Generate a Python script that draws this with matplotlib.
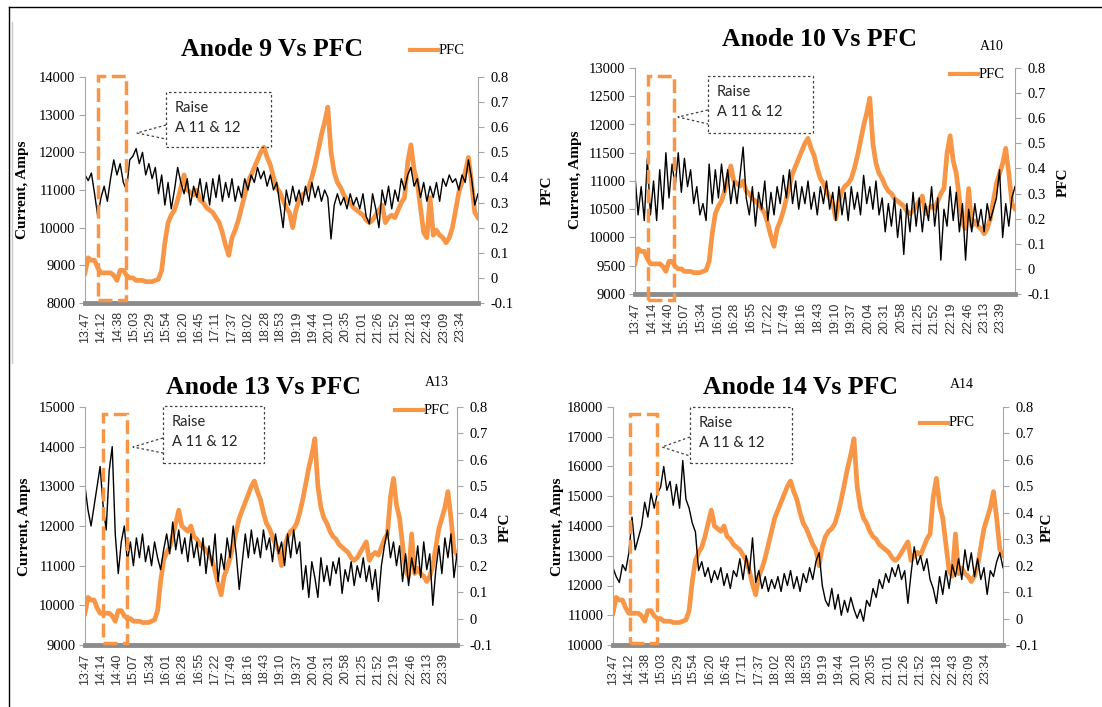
import numpy as np
import matplotlib.pyplot as plt
from matplotlib.patches import Rectangle
from matplotlib.lines import Line2D

W, H = 1102, 707
ORANGE = '#f79646'
GRAY = '#a6a6a6'

# one reading every 5 minutes starting 13:47
step = 5

pfc = [0.02, 0.08, 0.07, 0.07, 0.04, 0.02, 0.02, 0.02, 0.02, 0.01,
       -0.01, 0.03, 0.03, 0.01, 0.00, 0.00, -0.01, -0.01, -0.01, -0.015,
       -0.015, -0.015, -0.01, -0.005, 0.03, 0.14, 0.22, 0.25, 0.27, 0.31,
       0.36, 0.41, 0.35, 0.34, 0.33, 0.35, 0.31, 0.30, 0.28, 0.27,
       0.26, 0.24, 0.22, 0.18, 0.13, 0.09, 0.16, 0.19, 0.23, 0.28,
       0.33, 0.38, 0.41, 0.44, 0.47, 0.50, 0.52, 0.48, 0.45, 0.40,
       0.36, 0.34, 0.31, 0.28, 0.26, 0.20, 0.27, 0.31, 0.33, 0.34,
       0.36, 0.40, 0.45, 0.51, 0.57, 0.62, 0.68, 0.50, 0.42, 0.38,
       0.36, 0.33, 0.31, 0.30, 0.28, 0.27, 0.26, 0.25, 0.23, 0.22,
       0.23, 0.25, 0.27, 0.29, 0.22, 0.24, 0.25, 0.24, 0.27, 0.30,
       0.32, 0.46, 0.53, 0.43, 0.38, 0.28, 0.18, 0.16, 0.32, 0.17,
       0.19, 0.17, 0.16, 0.14, 0.16, 0.20, 0.27, 0.34, 0.38, 0.42,
       0.48, 0.38, 0.26, 0.24]

anode9 = [11400, 11250, 11450, 10900, 10300, 10800, 11100, 10700, 11300, 11800,
          11400, 11700, 11200, 11000, 11800, 11900, 12100, 11700, 12000, 11400,
          11700, 11300, 11600, 10900, 11400, 10600, 11200, 10500, 11000, 11600,
          11200, 10900, 11300, 10600, 11100, 10800, 11300, 10700, 11200, 10600,
          11300, 10800, 11400, 10700, 11200, 10800, 11300, 10700, 11100, 10800,
          11300, 11000, 11400, 11200, 11600, 11300, 11500, 11100, 11400, 11000,
          11200, 10600, 10000, 11000, 10600, 11100, 10700, 11000, 10600, 11100,
          10700, 11200, 10800, 11100, 10700, 11000, 10800, 9700, 10600, 10900,
          10600, 10800, 10500, 10900, 10600, 10800, 10500, 10900, 10300, 10100,
          10900, 10500, 10000, 11000, 10600, 11100, 10500, 11000, 10700, 11300,
          11000, 11400, 11600, 11100, 11300, 10800, 11200, 10700, 11100, 10800,
          11200, 10700, 11300, 11100, 11400, 11200, 11300, 11000, 11400, 11200,
          11800, 11300, 10600, 10900]

anode10 = [11100, 10400, 10900, 10300, 11400, 10400, 11000, 10300, 11200, 10500,
           11500, 10700, 11300, 10900, 11500, 10800, 11400, 10900, 11200, 10600,
           10900, 10400, 10600, 10300, 11300, 10600, 11200, 10700, 11300, 10800,
           11200, 10600, 11000, 10600, 11100, 11600, 10700, 10400, 10900, 10200,
           10800, 10500, 11000, 10300, 10800, 10400, 10900, 10600, 11100, 10700,
           11200, 10600, 11000, 10500, 10900, 10600, 11000, 10500, 10800, 10400,
           10900, 10600, 11000, 10500, 10800, 10300, 10900, 10400, 10800, 10300,
           10900, 10500, 10800, 10400, 11100, 10600, 10900, 10500, 11000, 10400,
           10700, 10100, 10600, 10200, 10700, 10000, 10500, 9700, 10600, 10100,
           10800, 10200, 10700, 10100, 10600, 10300, 10900, 10200, 10700, 9600,
           10500, 10200, 10900, 10300, 10800, 10100, 10600, 9600, 10500, 10100,
           10600, 10200, 10500, 10100, 10600, 10300, 10500, 10700, 11200, 10000,
           10600, 10200, 10700, 10900]

anode13 = [13000, 12400, 12000, 12500, 13000, 13500, 12500, 11900, 13400, 14000,
           11800, 10800, 11600, 12000, 11100, 11600, 11000, 11700, 11200, 11800,
           11100, 11500, 11000, 11600, 11200, 10900, 11400, 11800, 11300, 12100,
           11400, 11900, 11300, 11700, 11100, 11800, 11200, 11600, 11000, 11700,
           10800, 11500, 11000, 11800, 10600, 11300, 10900, 11700, 11200, 12000,
           11300, 10400, 11100, 11800, 11200, 11900, 11300, 11700, 11200, 11900,
           11400, 11700, 11100, 11800, 11300, 11600, 11000, 11800, 11200, 11900,
           11300, 11600, 10400, 11000, 10200, 11100, 10700, 10200, 11200, 10600,
           11000, 10500, 11100, 10800, 11200, 10300, 10900, 10600, 11100, 10500,
           11000, 10700, 11200, 10600, 11000, 10400, 10900, 10100, 11000, 11500,
           11900, 11200, 11600, 11000, 11500, 10600, 11300, 10500, 11200, 10800,
           11500, 10700, 11600, 10900, 11300, 10000, 10900, 11500, 10800, 11700,
           11200, 11800, 10700, 11300]

anode14 = [12600, 12300, 12100, 12700, 12500, 13100, 14300, 13200, 13600, 14000,
           14800, 14300, 15100, 14600, 15100, 15300, 16000, 15200, 15500, 14700,
           15400, 14600, 16200, 14900, 14600, 14100, 13800, 12500, 12800, 12300,
           12600, 12100, 12500, 12200, 12600, 12000, 12400, 11900, 12500, 12300,
           12900, 12200, 13000, 12400, 13600, 12100, 12500, 11900, 12300, 11800,
           12200, 11900, 12300, 11800, 12400, 12000, 12500, 11900, 12300, 11800,
           12400, 12100, 12600, 12200, 12800, 13100, 12000, 11500, 11300, 11900,
           11200, 11700, 11000, 11500, 11100, 11600, 11200, 10900, 11200, 10800,
           11500, 11300, 11900, 11600, 12200, 11900, 12400, 12100, 12600, 12300,
           12700, 12200, 12500, 11400, 12400, 13300, 12700, 13000, 12500, 12900,
           12200, 11900, 11400, 12300, 11700, 12500, 11900, 12700, 12300, 12900,
           12200, 13200, 12500, 13100, 12300, 12900, 12200, 12600, 11700, 12500,
           12300, 12800, 13100, 12600]

ticks_a = ['13:47', '14:12', '14:38', '15:03', '15:29', '15:54', '16:20', '16:45',
           '17:11', '17:37', '18:02', '18:28', '18:53', '19:19', '19:44', '20:10',
           '20:35', '21:01', '21:26', '21:52', '22:18', '22:43', '23:09', '23:34']
ticks_b = ['13:47', '14:14', '14:40', '15:07', '15:34', '16:01', '16:28', '16:55',
           '17:22', '17:49', '18:16', '18:43', '19:10', '19:37', '20:04', '20:31',
           '20:58', '21:25', '21:52', '22:19', '22:46', '23:13', '23:39']

pfc_ticks = [-0.1, 0, 0.1, 0.2, 0.3, 0.4, 0.5, 0.6, 0.7, 0.8]
pfc_labels = ['-0.1', '0', '0.1', '0.2', '0.3', '0.4', '0.5', '0.6', '0.7', '0.8']


def minutes(s):
    h, m = s.split(':')
    return int(h) * 60 + int(m) - (13 * 60 + 47)


def fx(x):
    return x / W


def fy(y):
    return 1 - y / H


fig = plt.figure(figsize=(W / 100, H / 100), dpi=100)
serif = 'Liberation Serif'


def panel(box, current, yticks, labels, title, title_xy, tag, tag_xy, leg_xy,
          ylab_xy, pfc_xy, note, apex, raise_win, raise_y):
    l, t, r, b = box
    ax = fig.add_axes([fx(l), fy(b), (r - l) / W, (b - t) / H])
    ax2 = ax.twinx()
    x_pfc = np.arange(len(pfc)) * step
    x_cur = np.arange(len(current)) * step
    ax2.plot(x_pfc, pfc, color=ORANGE, lw=3.4)
    ax.plot(x_cur, current, color='black', lw=1.0)
    ax.set_zorder(ax2.get_zorder() + 1)
    ax.patch.set_visible(False)

    ax.set_xlim(0, x_pfc[-1])
    ax.set_ylim(yticks[0], yticks[-1])
    ax2.set_ylim(-0.1, 0.8)
    ax.set_yticks(yticks, [str(v) for v in yticks], fontfamily=serif, fontsize=10.5)
    ax2.set_yticks(pfc_ticks, pfc_labels, fontfamily=serif, fontsize=10.5)
    ax.set_xticks([minutes(s) for s in labels], labels, rotation=90,
                  fontfamily='Liberation Sans', fontsize=9, color='#333333')
    ax.tick_params(axis='x', length=0, pad=6)
    ax.tick_params(axis='y', length=4, color=GRAY, pad=3)
    ax2.tick_params(axis='y', length=4, color=GRAY, pad=5)

    for s in ['top', 'right']:
        ax.spines[s].set_visible(False)
    ax.spines['left'].set_color(GRAY)
    ax.spines['bottom'].set_color('#8c8c8c')
    ax.spines['bottom'].set_linewidth(3.5)
    for s in ['top', 'left', 'bottom']:
        ax2.spines[s].set_visible(False)
    ax2.spines['right'].set_color(GRAY)

    # highlighted window
    t0, t1 = minutes(raise_win[0]), minutes(raise_win[1])
    ax.add_patch(Rectangle((t0, raise_y[0]), t1 - t0, raise_y[1] - raise_y[0],
                           transform=ax.get_xaxis_transform(), fill=False,
                           ec=ORANGE, lw=2.5, ls=(0, (4, 1.6)), clip_on=False, zorder=6))

    fig.text(fx(title_xy[0]), fy(title_xy[1]), title, ha='center', va='center',
             fontfamily=serif, fontweight='bold', fontsize=18.5)
    if tag:
        fig.text(fx(tag_xy[0]), fy(tag_xy[1]), tag, ha='center', va='center',
                 fontfamily=serif, fontsize=10)
    fig.add_artist(Line2D([fx(leg_xy[0]), fx(leg_xy[0] + 28)], [fy(leg_xy[1])] * 2,
                          color=ORANGE, lw=3))
    fig.text(fx(leg_xy[0] + 29), fy(leg_xy[1]), 'PFC', ha='left', va='center',
             fontfamily=serif, fontsize=10.5)
    fig.text(fx(ylab_xy[0]), fy(ylab_xy[1]), 'Current, Amps', rotation=90,
             ha='center', va='center', fontfamily=serif, fontweight='bold', fontsize=11)
    fig.text(fx(pfc_xy[0]), fy(pfc_xy[1]), 'PFC', rotation=90,
             ha='center', va='center', fontfamily=serif, fontweight='bold', fontsize=11)

    # callout box
    nl, nt, nr, nb = note
    fig.add_artist(Rectangle((fx(nl), fy(nb)), (nr - nl) / W, (nb - nt) / H,
                             transform=fig.transFigure, fill=False, ec='#404040',
                             lw=0.9, ls=(0, (2, 2))))
    fig.add_artist(Line2D([fx(nl), fx(apex[0]), fx(nl)],
                          [fy(apex[2]), fy(apex[1]), fy(apex[3])],
                          color='#404040', lw=0.9, ls=(0, (2, 2))))
    fig.text(fx(nl + 9), fy(nt + 16), 'Raise', ha='left', va='center',
             fontfamily='Lato', fontsize=10.5, color='#262626')
    fig.text(fx(nl + 9), fy(nt + 36), 'A 11 & 12', ha='left', va='center',
             fontfamily='Lato', fontsize=10.5, color='#262626')


panel((85, 77, 478, 303), anode9, [8000, 9000, 10000, 11000, 12000, 13000, 14000],
      ticks_a, 'Anode 9 Vs PFC', (272, 50), None, None, (410, 50),
      (23, 190), (547, 190), (166, 92, 271, 147), (137, 133, 125, 139),
      ('14:07', '14:51'), (0.013, 1.004))

panel((635, 68, 1015, 294), anode10,
      [9000, 9500, 10000, 10500, 11000, 11500, 12000, 12500, 13000],
      ticks_b, 'Anode 10 Vs PFC', (819, 40), 'A10', (992, 46), (950, 74),
      (575, 180), (1063, 182), (708, 76, 813, 133), (678, 117, 110, 124),
      ('14:08', '14:50'), (-0.027, 0.965))

panel((85, 407, 457, 645), anode13,
      [9000, 10000, 11000, 12000, 13000, 14000, 15000],
      ticks_b, 'Anode 13 Vs PFC', (263, 387), 'A13', (437, 382), (395, 410),
      (25, 527), (505, 527), (163, 406, 264, 463), (133, 447, 438, 453),
      ('14:17', '14:56'), (0.008, 0.971))

panel((613, 407, 1003, 645), anode14,
      [10000, 11000, 12000, 13000, 14000, 15000, 16000, 17000, 18000],
      ticks_a, 'Anode 14 Vs PFC', (800, 387), 'A14', (962, 385), (920, 423),
      (557, 527), (1047, 527), (690, 407, 792, 463), (662, 447, 437, 456),
      ('14:14', '14:56'), (0.008, 0.971))

# outer frame of the composite figure
fig.add_artist(Line2D([fx(9), fx(1102)], [fy(7), fy(7)], color='black', lw=1))
fig.add_artist(Line2D([fx(9), fx(9)], [fy(7), fy(707)], color='black', lw=1))
fig.add_artist(Line2D([fx(12), fx(12)], [fy(22), fy(363)], color='#c8c8c8', lw=1))

fig.savefig('out.png', dpi=100, facecolor='white')
